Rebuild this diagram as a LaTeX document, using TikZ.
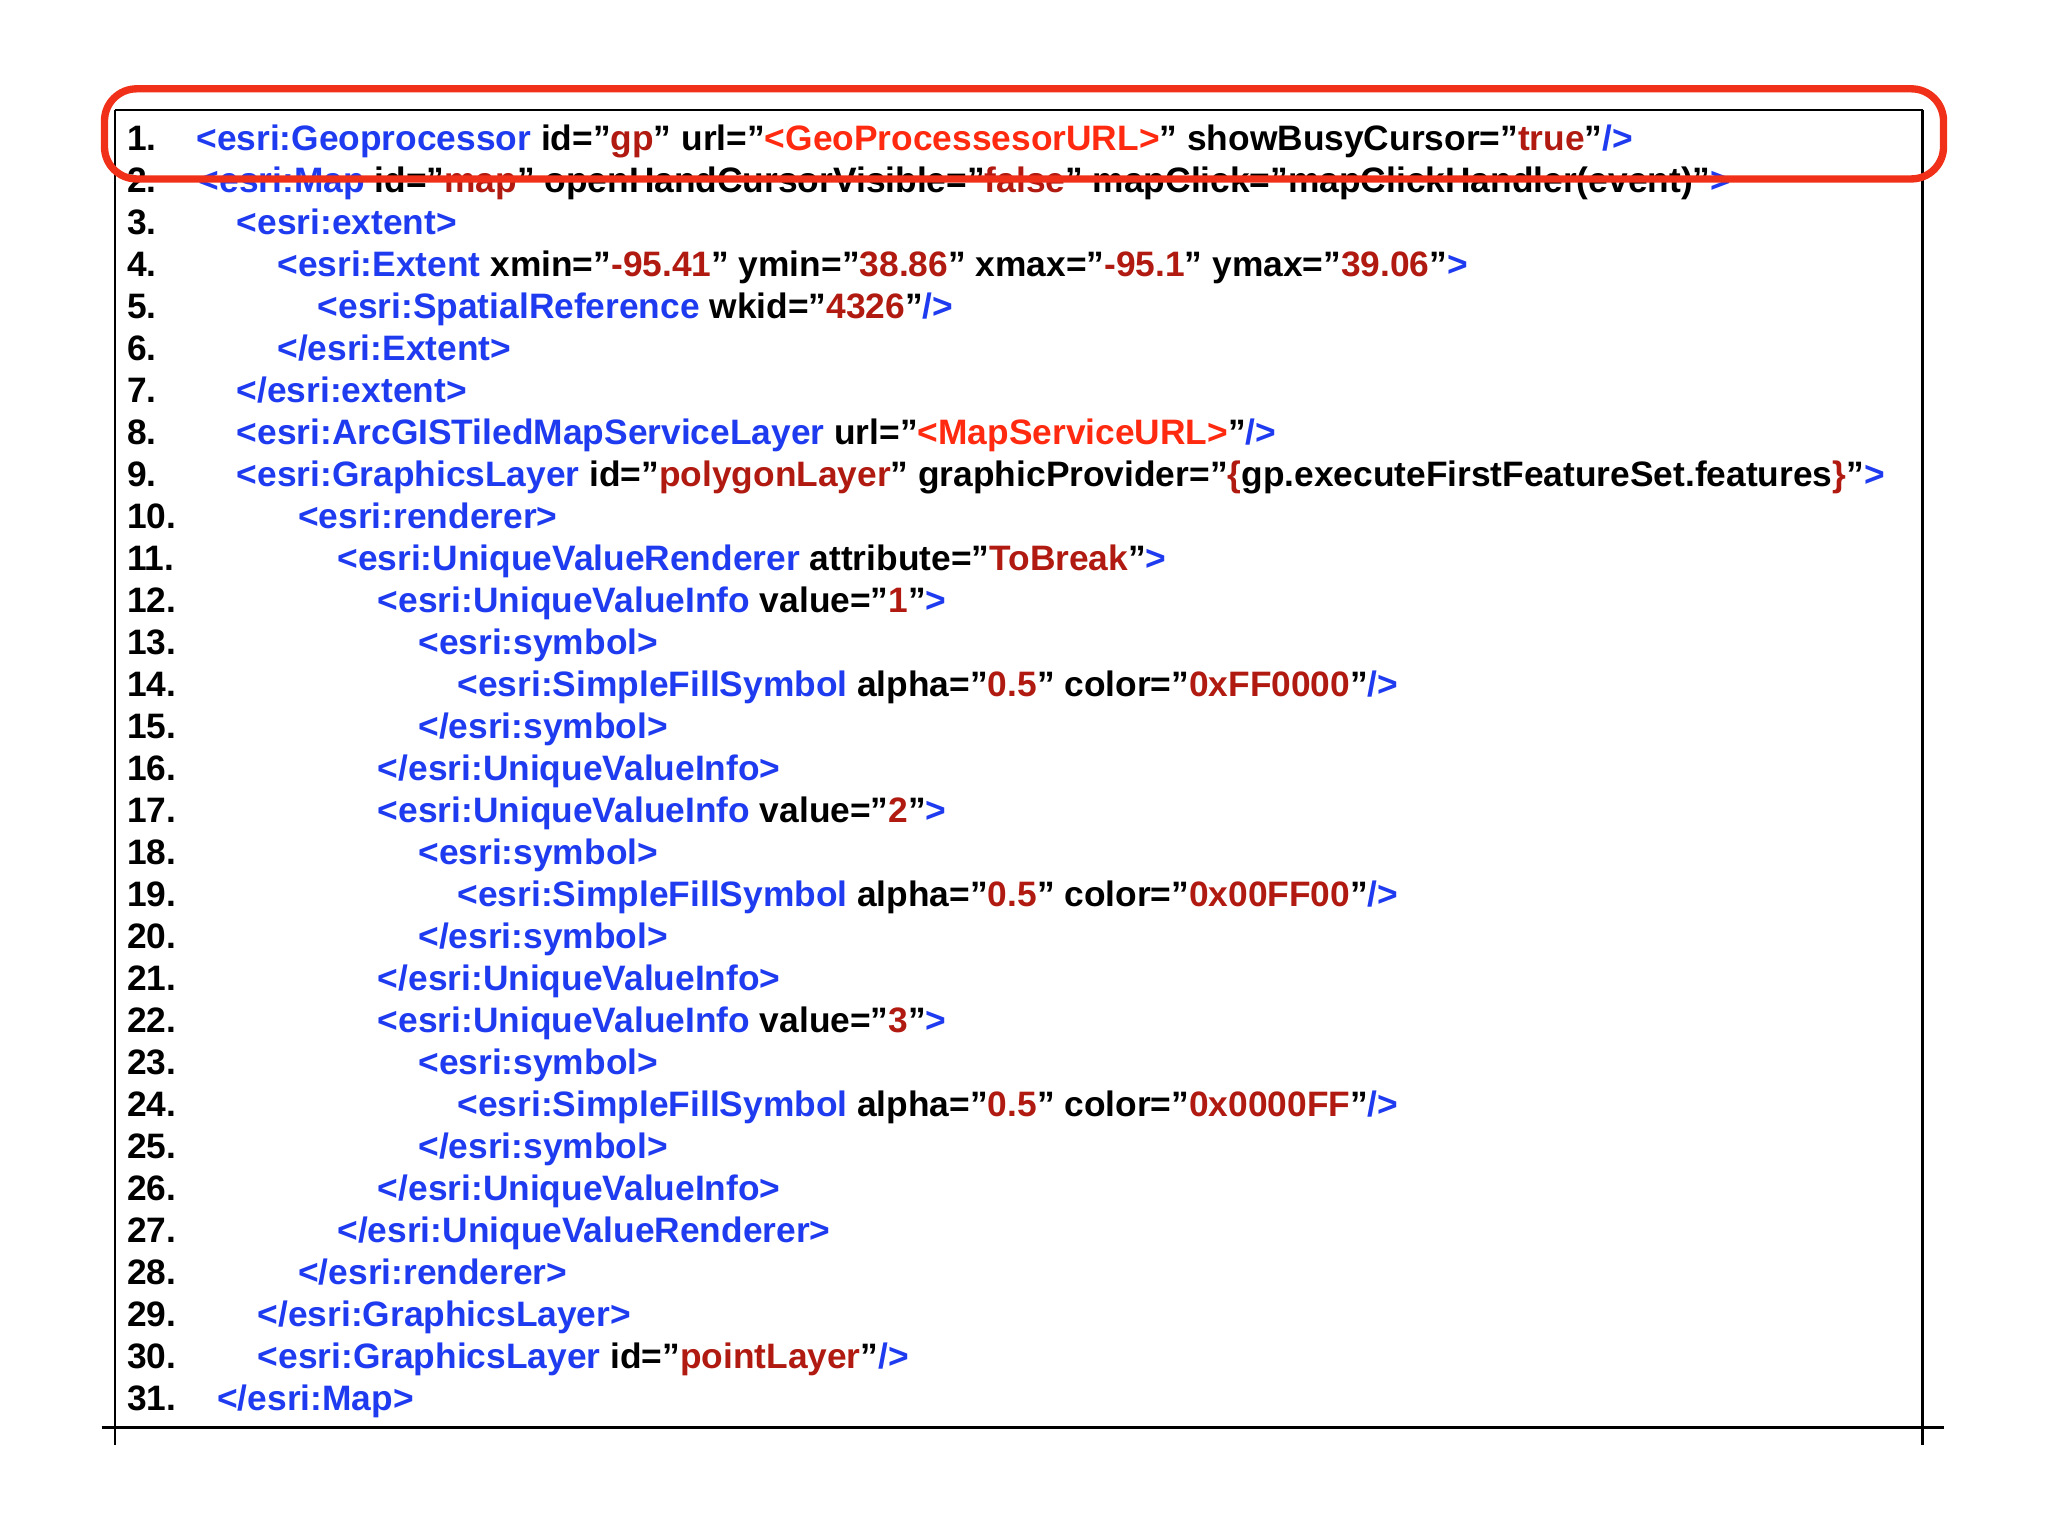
\documentclass[tikz,border=0pt]{standalone}
\usepackage{fontspec}
\setmainfont[Ligatures=NoCommon]{Liberation Sans}
\definecolor{tagc}{HTML}{1F3BF0}
\definecolor{valc}{HTML}{B01A10}
\definecolor{urlc}{HTML}{FF2A10}
\definecolor{boxc}{HTML}{F03018}
\newcommand{\tg}[1]{\textcolor{tagc}{#1}}
\newcommand{\vl}[1]{\textcolor{valc}{#1}}
\newcommand{\ur}[1]{\textcolor{urlc}{#1}}
\newcommand{\q}{\symbol{34}}
\begin{document}
\begin{tikzpicture}[x=0.02cm,y=-0.02cm,
  code/.style={anchor=base west,inner sep=0pt,font=\fontsize{15.4}{18}\selectfont\bfseries},
  num/.style={code}]
\useasboundingbox (0,0) rectangle (1568,1176);
\coordinate (tl) at (88,84); \coordinate (tr) at (1472,84);
\coordinate (bl) at (88,1106); \coordinate (br) at (1472,1106);
\coordinate (bL) at (78,1093); \coordinate (bR) at (1488,1093);
\draw[line width=1pt] (tl) -- (tr);
\draw[line width=1pt] (tl) -- (bl);
\draw[line width=1pt] (tr) -- (br);
\draw[line width=1pt] (bL) -- (bR);
\foreach \i in {1,...,31}{
  \node[num] (n\i) at (97,{115+(\i-1)*32.17}) {\i.};
}
\def\L#1#2#3{\node[code] (l#1) at (#2,{115+(#1-1)*32.17}) {#3};}
\L{1}{150}{\tg{<esri:Geoprocessor} id=\q\vl{gp}\q{} url=\q\ur{<GeoProcessesorURL>}\q{} showBusyCursor=\q\vl{true}\q\tg{/>}}
\L{2}{152}{\tg{<esri:Map} id=\q\vl{map}\q{} openHandCursorVisible=\q\vl{false}\q{} mapClick=\q{}mapClickHandler(event)\q\tg{>}}
\L{3}{181}{\tg{<esri:extent>}}
\L{4}{212}{\tg{<esri:Extent} xmin=\q\vl{-95.41}\q{} ymin=\q\vl{38.86}\q{} xmax=\q\vl{-95.1}\q{} ymax=\q\vl{39.06}\q\tg{>}}
\L{5}{243}{\tg{<esri:SpatialReference} wkid=\q\vl{4326}\q\tg{/>}}
\L{6}{212}{\tg{</esri:Extent>}}
\L{7}{181}{\tg{</esri:extent>}}
\L{8}{181}{\tg{<esri:ArcGISTiledMapServiceLayer} url=\q\ur{<MapServiceURL>}\q\tg{/>}}
\L{9}{181}{\tg{<esri:GraphicsLayer} id=\q\vl{polygonLayer}\q{} graphicProvider=\q\vl{\{}gp.executeFirstFeatureSet.features\vl{\}}\q\tg{>}}
\L{10}{228}{\tg{<esri:renderer>}}
\L{11}{258}{\tg{<esri:UniqueValueRenderer} attribute=\q\vl{ToBreak}\q\tg{>}}
\L{12}{289}{\tg{<esri:UniqueValueInfo} value=\q\vl{1}\q\tg{>}}
\L{13}{320}{\tg{<esri:symbol>}}
\L{14}{350}{\tg{<esri:SimpleFillSymbol} alpha=\q\vl{0.5}\q{} color=\q\vl{0xFF0000}\q\tg{/>}}
\L{15}{320}{\tg{</esri:symbol>}}
\L{16}{289}{\tg{</esri:UniqueValueInfo>}}
\L{17}{289}{\tg{<esri:UniqueValueInfo} value=\q\vl{2}\q\tg{>}}
\L{18}{320}{\tg{<esri:symbol>}}
\L{19}{350}{\tg{<esri:SimpleFillSymbol} alpha=\q\vl{0.5}\q{} color=\q\vl{0x00FF00}\q\tg{/>}}
\L{20}{320}{\tg{</esri:symbol>}}
\L{21}{289}{\tg{</esri:UniqueValueInfo>}}
\L{22}{289}{\tg{<esri:UniqueValueInfo} value=\q\vl{3}\q\tg{>}}
\L{23}{320}{\tg{<esri:symbol>}}
\L{24}{350}{\tg{<esri:SimpleFillSymbol} alpha=\q\vl{0.5}\q{} color=\q\vl{0x0000FF}\q\tg{/>}}
\L{25}{320}{\tg{</esri:symbol>}}
\L{26}{289}{\tg{</esri:UniqueValueInfo>}}
\L{27}{258}{\tg{</esri:UniqueValueRenderer>}}
\L{28}{228}{\tg{</esri:renderer>}}
\L{29}{197}{\tg{</esri:GraphicsLayer>}}
\L{30}{197}{\tg{<esri:GraphicsLayer} id=\q\vl{pointLayer}\q\tg{/>}}
\L{31}{166}{\tg{</esri:Map>}}
\coordinate (hl1) at (80,68); \coordinate (hl2) at (1488,137);
\draw[boxc,line width=3.2pt,rounded corners=14pt] (hl1) rectangle (hl2);
\end{tikzpicture}
\end{document}
